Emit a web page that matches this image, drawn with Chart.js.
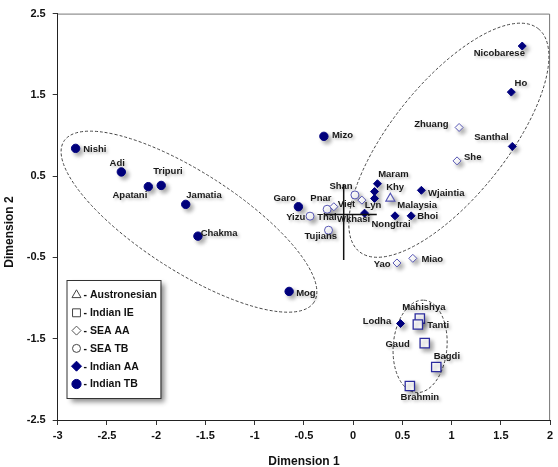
<!DOCTYPE html>
<html>
<head>
<meta charset="utf-8">
<script src="https://cdn.jsdelivr.net/npm/chart.js@4.4.1/dist/chart.umd.min.js"></script>
<style>
  html, body { margin: 0; padding: 0; background: #fff; }
  #wrap { width: 558px; height: 467px; position: relative; }
</style>
</head>
<body>
<div id="wrap"><canvas id="chart"></canvas></div>
<script>
// populations as (Dimension 1, Dimension 2)
const austronesian = [
  { name: "Malaysia", x: 0.378, y: 0.226 }
];
const indianIE = [
  { name: "Mahishya", x: 0.677, y: -1.252 },
  { name: "Tanti", x: 0.657, y: -1.325 },
  { name: "Gaud", x: 0.727, y: -1.554 },
  { name: "Bagdi", x: 0.844, y: -1.848 },
  { name: "Brahmin", x: 0.576, y: -2.081 }
];
const seaAA = [
  { name: "Viet", x: -0.196, y: 0.124 },
  { name: "Pnar", x: 0.089, y: 0.205 },
  { name: "Yao", x: 0.445, y: -0.568 },
  { name: "Miao", x: 0.606, y: -0.511 },
  { name: "Zhuang", x: 1.076, y: 1.099 },
  { name: "She", x: 1.055, y: 0.688 }
];
const seaTB = [
  { name: "Yizu", x: -0.438, y: 0.008 },
  { name: "Thai", x: -0.264, y: 0.093 },
  { name: "Tujians", x: -0.250, y: -0.165 },
  { name: "Shan", x: 0.018, y: 0.269 }
];
const indianAA = [
  { name: "Maram", x: 0.247, y: 0.407 },
  { name: "Khy", x: 0.217, y: 0.310 },
  { name: "Lyn", x: 0.217, y: 0.226 },
  { name: "Wkhasi", x: 0.116, y: 0.045 },
  { name: "Nongtrai", x: 0.425, y: 0.012 },
  { name: "Bhoi", x: 0.589, y: 0.012 },
  { name: "Wjaintia", x: 0.693, y: 0.326 },
  { name: "Nicobarese", x: 1.717, y: 2.101 },
  { name: "Ho", x: 1.606, y: 1.534 },
  { name: "Santhal", x: 1.616, y: 0.866 },
  { name: "Lodha", x: 0.481, y: -1.313 }
];
const indianTB = [
  { name: "Nishi", x: -2.818, y: 0.842 },
  { name: "Adi", x: -2.354, y: 0.552 },
  { name: "Apatani", x: -2.080, y: 0.371 },
  { name: "Tripuri", x: -1.949, y: 0.386 },
  { name: "Jamatia", x: -1.700, y: 0.153 },
  { name: "Chakma", x: -1.576, y: -0.238 },
  { name: "Mizo", x: -0.297, y: 0.990 },
  { name: "Garo", x: -0.556, y: 0.124 },
  { name: "Mog", x: -0.650, y: -0.918 }
];

const xTicks = [-3, -2.5, -2, -1.5, -1, -0.5, 0, 0.5, 1, 1.5, 2];
const yTicks = [-2.5, -1.5, -0.5, 0.5, 1.5, 2.5];

// the cross near the origin
const crossH = [{ x: -0.29, y: 0.028 }, { x: 0.24, y: 0.028 }];
const crossV = [{ x: -0.096, y: 0.40 }, { x: -0.096, y: -0.53 }];

// dashed cluster outlines: centre and two semi-axes, in data units
const clusters = [
  { c: [-1.667, -0.06], a: [1.27, -0.99], b: [-0.275, -0.507] },
  { c: [0.972, 0.942], a: [0.909, 1.371], b: [0.457, -0.436] },
  { c: [0.68, -1.594], a: [0.04, 0.568], b: [0.272, -0.024] }
];

// where each name sits next to its marker (px), and how it is aligned
const labelPos = {
  Nishi: [7.6, 1, "left"], Adi: [-11.7, -9, "left"], Tripuri: [-8, -13.7, "left"],
  Apatani: [-1, 8.4, "right"], Jamatia: [0.6, -9.3, "left"], Chakma: [2.7, -2.7, "left"],
  Mizo: [8, -1, "left"], Garo: [-2.6, -8.4, "right"], Mog: [7, 2, "left"],
  Yizu: [-4.7, 1, "right"], Thai: [-10, 8, "left"], Tujians: [-24, 6, "left"],
  Shan: [-2.3, -8.4, "right"], Viet: [4, -2, "left"], Pnar: [-51.6, -1.7, "left"],
  Yao: [-6.4, 1, "right"], Miao: [8.6, 0.7, "left"], Zhuang: [-10.6, -2.7, "right"],
  She: [7, -3.7, "left"], Maram: [0.7, -9.3, "left"], Khy: [11.7, -4, "left"],
  Lyn: [-9.7, 6.7, "left"], Wkhasi: [5.7, 6, "right"], Nongtrai: [-4, 8.7, "center"],
  Bhoi: [6, 0.7, "left"], Wjaintia: [6.7, 2.7, "left"], Nicobarese: [2.7, 7.7, "right"],
  Ho: [3.3, -8.7, "left"], Santhal: [-3.7, -8.6, "right"], Lodha: [-9.3, -2.4, "right"],
  Malaysia: [7, 7.4, "left"], Mahishya: [4, -11, "center"], Tanti: [9.3, 1.3, "left"],
  Gaud: [-15, 1.6, "right"], Bagdi: [-2.6, -10.3, "left"], Brahmin: [10, 11.4, "center"]
};

const FONT = "'Liberation Sans', Arial, sans-serif";
const NAVY = "#000080";
const OPEN = "#5656b4";

function group(label, data, style, radius, border, fill, bw, legendStyle) {
  return {
    type: "scatter", label: label, data: data,
    pointStyle: style, pointRadius: radius, pointBorderColor: border,
    pointBackgroundColor: fill, pointBorderWidth: bw, legendStyle: legendStyle
  };
}

function crossLine(data) {
  return {
    type: "line", data: data, borderColor: "#111", borderWidth: 1.5,
    pointRadius: 0, fill: false, isCross: true
  };
}

const clusterPlugin = {
  id: "clusters",
  beforeDatasetsDraw(chart) {
    const ctx = chart.ctx, xs = chart.scales.x, ys = chart.scales.y;
    const area = chart.chartArea;
    ctx.save();
    // frame on top and right
    ctx.strokeStyle = "#777";
    ctx.lineWidth = 1;
    ctx.beginPath();
    ctx.moveTo(area.left, area.top + 0.5);
    ctx.lineTo(area.right - 0.5, area.top + 0.5);
    ctx.lineTo(area.right - 0.5, area.bottom);
    ctx.stroke();

    ctx.strokeStyle = "#444";
    ctx.setLineDash([3, 2]);
    clusters.forEach(function(e) {
      const cx = xs.getPixelForValue(e.c[0]), cy = ys.getPixelForValue(e.c[1]);
      const ax = xs.getPixelForValue(e.c[0] + e.a[0]) - cx, ay = ys.getPixelForValue(e.c[1] + e.a[1]) - cy;
      const bx = xs.getPixelForValue(e.c[0] + e.b[0]) - cx, by = ys.getPixelForValue(e.c[1] + e.b[1]) - cy;
      ctx.beginPath();
      ctx.ellipse(cx, cy, Math.hypot(ax, ay), Math.hypot(bx, by), Math.atan2(ay, ax), 0, Math.PI * 2);
      ctx.stroke();
    });
    ctx.restore();
  }
};

const shadowPlugin = {
  id: "shadow",
  beforeDatasetDraw(chart, args) {
    if (chart.data.datasets[args.index].isCross) return;
    const ctx = chart.ctx;
    ctx.save();
    ctx.shadowColor = "rgba(0,0,0,0.35)";
    ctx.shadowBlur = 4;
    ctx.shadowOffsetX = 3;
    ctx.shadowOffsetY = 3;
  },
  afterDatasetDraw(chart, args) {
    if (chart.data.datasets[args.index].isCross) return;
    chart.ctx.restore();
  }
};

const namesPlugin = {
  id: "names",
  afterDatasetsDraw(chart) {
    const ctx = chart.ctx;
    ctx.save();
    ctx.font = "bold 9.5px " + FONT;
    ctx.fillStyle = "#1a1a1a";
    ctx.textBaseline = "middle";
    ctx.shadowColor = "rgba(0,0,0,0.25)";
    ctx.shadowBlur = 3;
    ctx.shadowOffsetX = 2;
    ctx.shadowOffsetY = 2;
    chart.data.datasets.forEach(function(ds, i) {
      if (ds.isCross) return;
      const meta = chart.getDatasetMeta(i);
      ds.data.forEach(function(p, j) {
        const pos = labelPos[p.name] || [6, 0, "left"];
        const el = meta.data[j];
        ctx.textAlign = pos[2];
        ctx.fillText(p.name, el.x + pos[0], el.y + pos[1]);
      });
    });
    ctx.restore();
  }
};

const legendPlugin = {
  id: "boxLegend",
  afterDraw(chart) {
    const ctx = chart.ctx;
    const box = { x: 66.5, y: 280, w: 94, h: 118 };
    ctx.save();
    ctx.shadowColor = "rgba(0,0,0,0.45)";
    ctx.shadowBlur = 5;
    ctx.shadowOffsetX = 4;
    ctx.shadowOffsetY = 4;
    ctx.fillStyle = "#fff";
    ctx.fillRect(box.x, box.y, box.w, box.h);
    ctx.restore();
    ctx.save();
    ctx.strokeStyle = "#333";
    ctx.lineWidth = 1;
    ctx.strokeRect(box.x + 0.5, box.y + 0.5, box.w, box.h);
    ctx.font = "bold 10.5px " + FONT;
    ctx.textBaseline = "middle";
    ctx.textAlign = "left";
    chart.data.datasets.forEach(function(ds) {
      if (ds.isCross) return;
      const ls = ds.legendStyle;
      const y = 295 + ls.row * 17.8;
      ctx.fillStyle = ls.fill;
      ctx.strokeStyle = ls.border;
      ctx.lineWidth = 1;
      Chart.helpers.drawPoint(ctx, { pointStyle: ds.pointStyle, radius: ls.radius, rotation: 0, borderWidth: 1 }, 76.5, y);
      ctx.fillStyle = "#111";
      ctx.fillText("- " + ds.label, 83.5, y + 0.5);
    });
    ctx.restore();
  }
};

const axisTitles = {
  id: "axisTitles",
  afterDraw(chart) {
    const ctx = chart.ctx;
    ctx.save();
    ctx.font = "bold 12px " + FONT;
    ctx.fillStyle = "#111";
    ctx.textAlign = "center";
    ctx.textBaseline = "middle";
    ctx.fillText("Dimension 1", 304, 462);
    ctx.translate(9.5, 232);
    ctx.rotate(-Math.PI / 2);
    ctx.fillText("Dimension 2", 0, 0);
    ctx.restore();
  }
};

const tickFont = { family: FONT, size: 11, weight: "bold" };

new Chart(document.getElementById("chart"), {
  type: "scatter",
  data: {
    datasets: [
      crossLine(crossH),
      crossLine(crossV),
      group("Austronesian", austronesian, "triangle", 5.2, OPEN, "#fff", 1.2, { row: 0, radius: 5.2, border: "#444", fill: "#fff" }),
      group("Indian IE", indianIE, "rect", 6.6, "#2c2c9e", "#fff", 1.3, { row: 1, radius: 5.6, border: "#444", fill: "#fff" }),
      group("SEA AA", seaAA, "rectRot", 4, OPEN, "#fff", 1, { row: 2, radius: 4.5, border: "#555", fill: "#fff" }),
      group("SEA TB", seaTB, "circle", 4, OPEN, "#fff", 1, { row: 3, radius: 4, border: "#444", fill: "#fff" }),
      group("Indian AA", indianAA, "rectRot", 4, NAVY, NAVY, 1, { row: 4, radius: 5, border: NAVY, fill: NAVY }),
      group("Indian TB", indianTB, "circle", 4.2, NAVY, NAVY, 1, { row: 5, radius: 4.6, border: NAVY, fill: NAVY })
    ]
  },
  options: {
    responsive: true,
    maintainAspectRatio: false,
    animation: false,
    events: [],
    layout: { padding: { left: 0, right: 4, top: 6, bottom: 0 } },
    plugins: { legend: { display: false }, tooltip: { enabled: false } },
    scales: {
      x: {
        type: "linear", position: "bottom", min: -3, max: 2,
        afterBuildTicks: function(s) { s.ticks = xTicks.map(function(v) { return { value: v }; }); },
        afterFit: function(s) { s.height = 47; },
        grid: { drawOnChartArea: false, drawTicks: true, tickLength: 5, color: "#333" },
        border: { display: true, color: "#222", width: 1 },
        ticks: { font: tickFont, color: "#111", padding: 4, maxRotation: 0, autoSkip: false,
                 callback: function(v) { return String(v); } }
      },
      y: {
        type: "linear", position: "left", min: -2.5, max: 2.5,
        afterBuildTicks: function(s) { s.ticks = yTicks.map(function(v) { return { value: v }; }); },
        afterFit: function(s) { s.width = 57.7; },
        grid: { drawOnChartArea: false, drawTicks: true, tickLength: 5, color: "#333" },
        border: { display: true, color: "#222", width: 1 },
        ticks: { font: tickFont, color: "#111", padding: 7, autoSkip: false,
                 callback: function(v) { return String(v); } }
      }
    }
  },
  plugins: [clusterPlugin, shadowPlugin, namesPlugin, legendPlugin, axisTitles]
});
</script>
</body>
</html>
